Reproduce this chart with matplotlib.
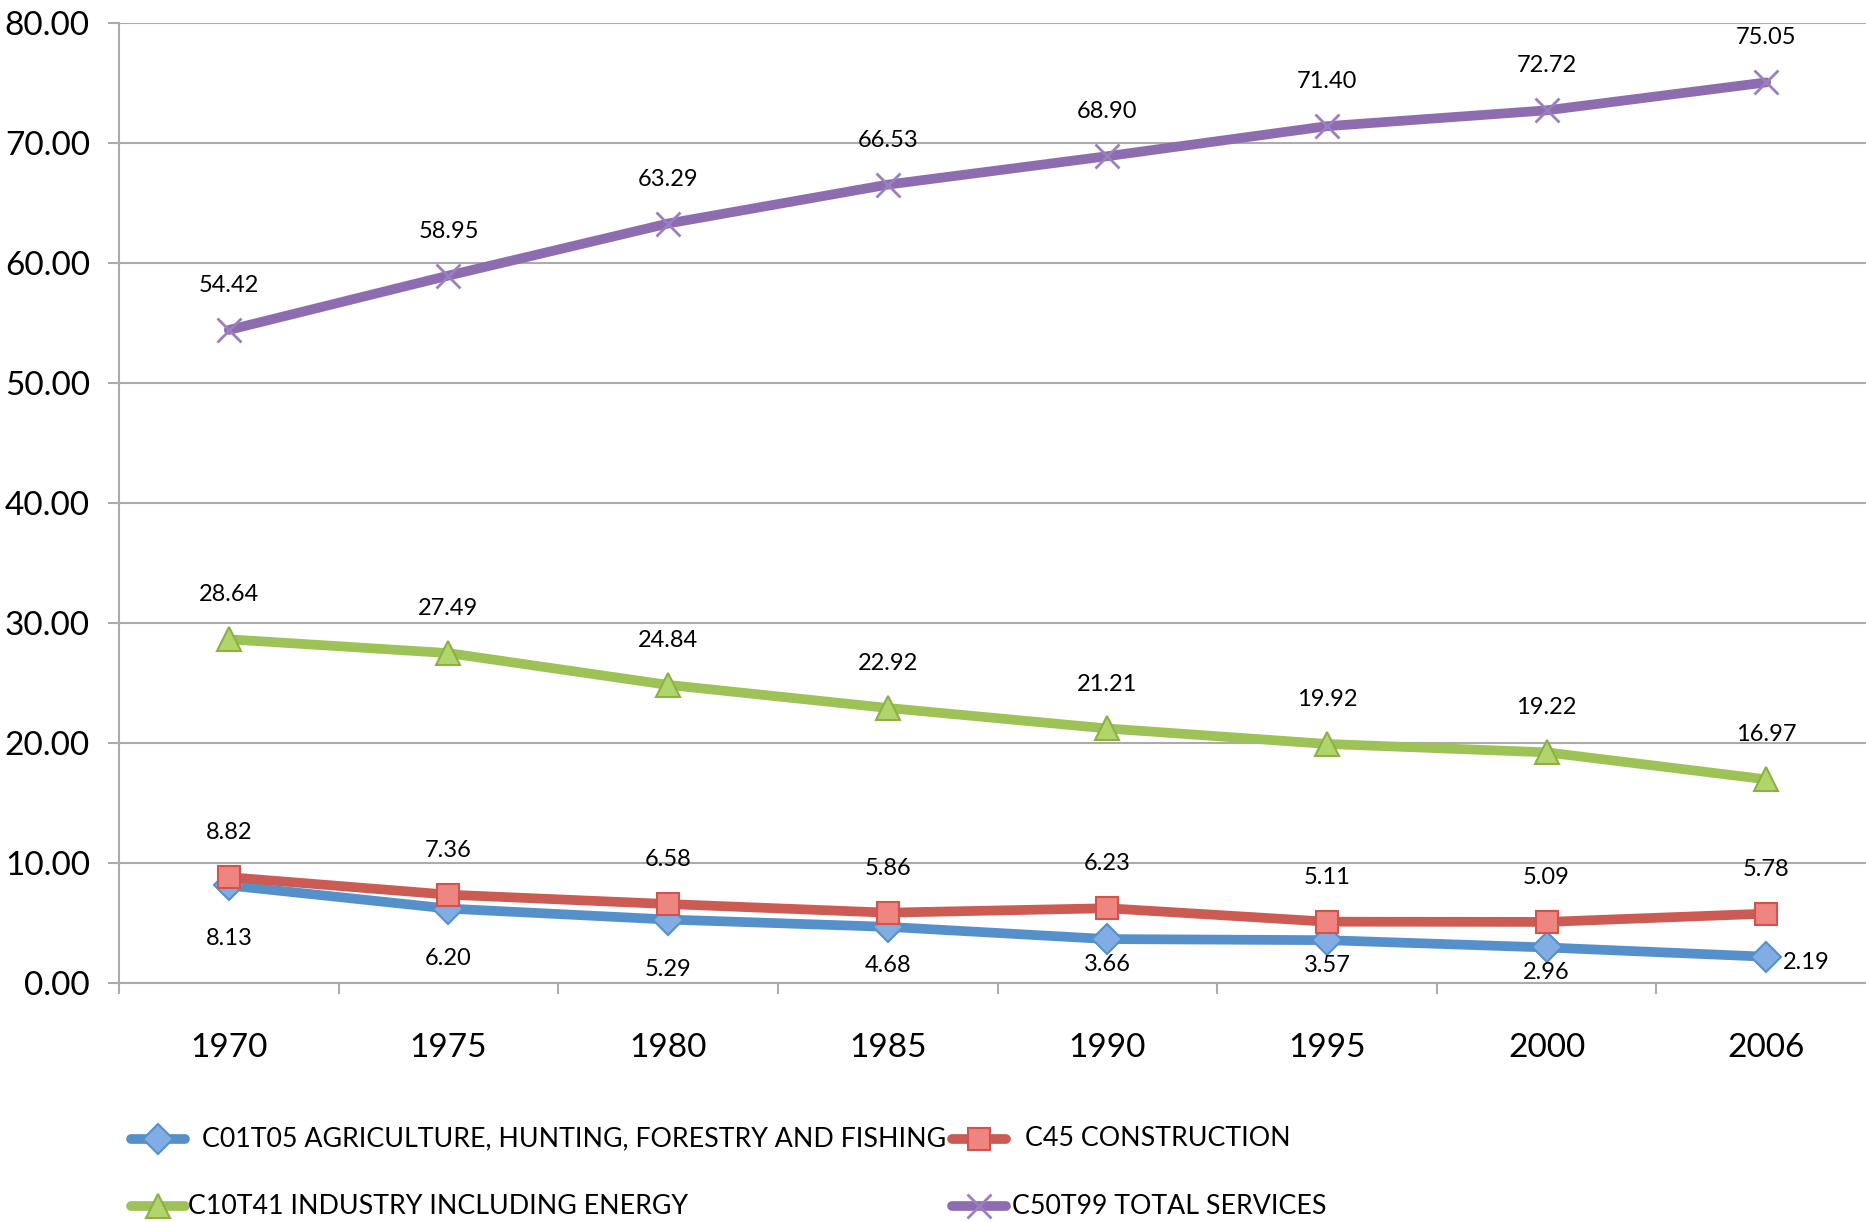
#!/usr/bin/env python3

import matplotlib
matplotlib.use("Agg")
from matplotlib import pyplot as plt
from matplotlib.lines import Line2D

plt.rcParams['font.family'] = ['Lato', 'DejaVu Sans']

# data
years = ['1970', '1975', '1980', '1985', '1990', '1995', '2000', '2006']
agriculture = [8.13, 6.20, 5.29, 4.68, 3.66, 3.57, 2.96, 2.19]
construction = [8.82, 7.36, 6.58, 5.86, 6.23, 5.11, 5.09, 5.78]
industry = [28.64, 27.49, 24.84, 22.92, 21.21, 19.92, 19.22, 16.97]
services = [54.42, 58.95, 63.29, 66.53, 68.90, 71.40, 72.72, 75.05]

W, H = 1866, 1222
fig = plt.figure(figsize=(W / 100, H / 100), dpi=100)
ax = fig.add_axes([119 / W, 239 / H, 1757 / W, 960 / H])

x = list(range(len(years)))
grid_col = '#ababab'

series = [
    # values, line colour, marker, face, edge, size, label
    (agriculture, '#5590ca', 'D', '#80ade3', '#5590ca', 15,
     'C01T05 AGRICULTURE, HUNTING, FORESTRY AND FISHING'),
    (construction, '#cb5b53', 's', '#ef8580', '#d0534d', 16, 'C45 CONSTRUCTION'),
    (industry, '#9dc255', '^', '#b0d56a', '#8cb044', 17,
     'C10T41 INDUSTRY INCLUDING ENERGY'),
    (services, '#8d6db0', 'x', '#9a80c0', '#9a80c0', 17, 'C50T99 TOTAL SERVICES'),
]

for vals, col, mk, fc, ec, ms, lab in series:
    ax.plot(x, vals, color=col, lw=7, marker=mk, markersize=ms,
            markerfacecolor=fc, markeredgecolor=ec,
            markeredgewidth=1.5 if mk != 'x' else 2, zorder=3,
            solid_capstyle='round')

# data labels
lab_fs = 17
for vals in (construction, industry, services):
    for xi, v in zip(x, vals):
        ax.annotate('%.2f' % v, (xi, v), xytext=(0, 32), textcoords='offset points',
                    ha='center', va='center', fontsize=lab_fs)

# agriculture labels sit below (squeezed near the axis), last one to the right
agri_dy = [-38, -36, -36, -28, -18, -18, -18]
for xi, v, dy in zip(x[:-1], agriculture[:-1], agri_dy):
    ax.annotate('%.2f' % v, (xi, v), xytext=(0, dy), textcoords='offset points',
                ha='center', va='center', fontsize=lab_fs)
ax.annotate('%.2f' % agriculture[-1], (x[-1], agriculture[-1]), xytext=(12, -4),
            textcoords='offset points', ha='left', va='center', fontsize=lab_fs)

# axes styling
ax.set_xlim(-0.5, len(years) - 0.5)
ax.set_ylim(0, 80)
ax.set_yticks(range(0, 81, 10))
ax.set_yticklabels(['%.2f' % v for v in range(0, 81, 10)])
ax.set_xticks(x)
ax.set_xticklabels(years)
ax.set_xticks([i - 0.5 for i in range(len(years) + 1)], minor=True)
ax.tick_params(axis='x', which='major', length=0, pad=36, labelsize=24)
ax.tick_params(axis='x', which='minor', length=8, width=1.5, color=grid_col)
ax.tick_params(axis='y', length=8, width=1.5, color=grid_col, pad=13, labelsize=24)
ax.grid(axis='y', color=grid_col, lw=1.5, zorder=0)
for s in ('top', 'right'):
    ax.spines[s].set_visible(False)
for s in ('left', 'bottom'):
    ax.spines[s].set_color(grid_col)
    ax.spines[s].set_linewidth(1.5)

# legend drawn by hand to match the uneven Excel layout
legend_pos = [(131, 1139, 202), (952, 1139, 1025), (131, 1206, 188), (952, 1206, 1012)]
texts = []
for (vals, col, mk, fc, ec, ms, lab), (hx, hy, tx) in zip(series, legend_pos):
    yf = 1 - hy / H
    xs = [hx / W, (hx + 27) / W, (hx + 54) / W]
    fig.add_artist(Line2D(xs, [yf] * 3, transform=fig.transFigure, color=col,
                          lw=7, marker=mk, markevery=[1], markersize=ms,
                          markerfacecolor=fc, markeredgecolor=ec,
                          markeredgewidth=1.5 if mk != 'x' else 2,
                          solid_capstyle='round'))
    texts.append(fig.text(tx / W, yf, lab, fontsize=25, ha='left', va='center'))

# the first legend entry must end before the second handle (about 741 px wide)
r = fig.canvas.get_renderer()
w = texts[0].get_window_extent(r).width
if w > 741:
    for t in texts:
        t.set_fontsize(25 * 741 / w)

fig.savefig('out.png', dpi=100)
